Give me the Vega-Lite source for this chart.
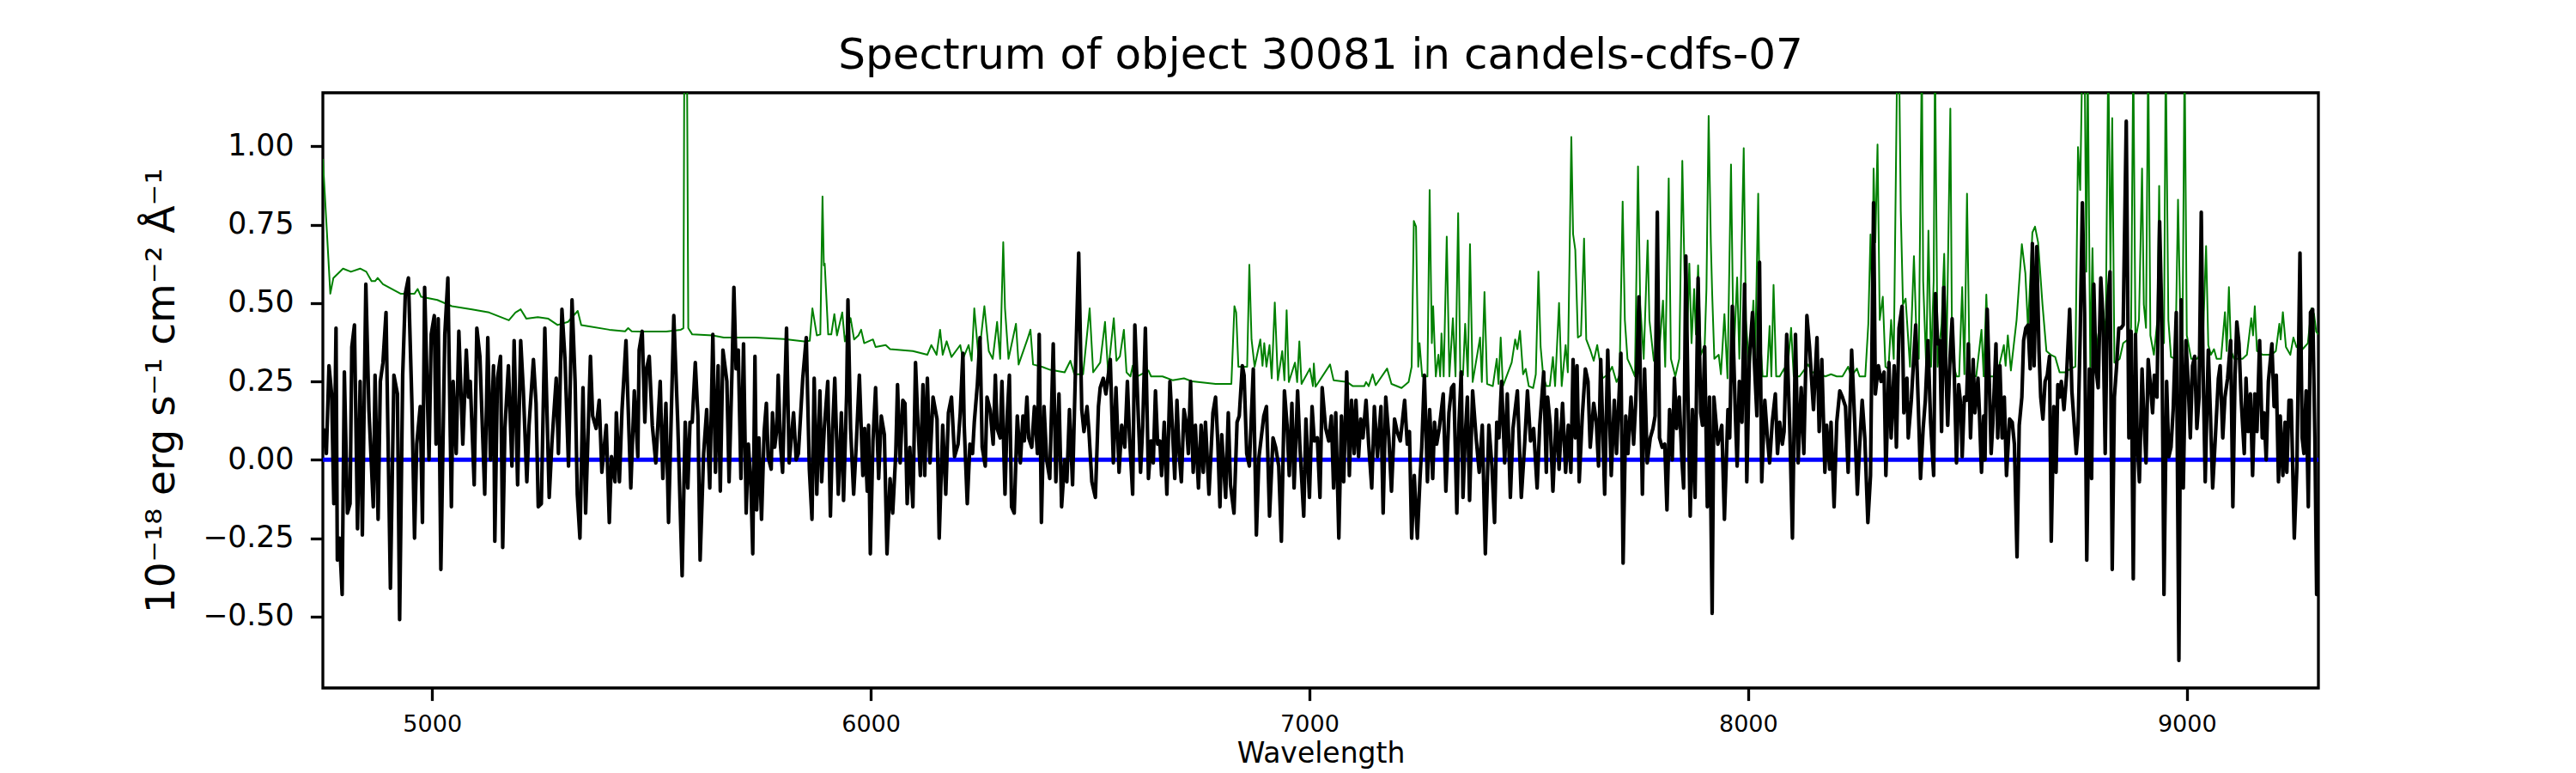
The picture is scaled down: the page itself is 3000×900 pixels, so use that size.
{
"$schema": "https://vega.github.io/schema/vega-lite/v6.json",
"width": 2324, "height": 693,
"autosize": {"type": "none"},
"padding": {"left": 376, "top": 108, "right": 300, "bottom": 99},
"background": "white",
"config": {"font": "DejaVu Sans", "view": {"stroke": "black", "strokeWidth": 3.3}},
"title": {"text": "Spectrum of object 30081 in candels-cdfs-07", "fontSize": 50, "fontWeight": "normal", "font": "DejaVu Sans", "color": "black", "anchor": "middle", "frame": "group", "baseline": "alphabetic", "offset": 25, "dy": 47},
"datasets": {
"flux": [
{"w":4752,"f":0.10},{"w":4759,"f":0.02},{"w":4765,"f":0.30},{"w":4771,"f":0.21},{"w":4776,"f":-0.14},{"w":4781,"f":0.42},{"w":4784,"f":-0.32},{"w":4789,"f":-0.25},{"w":4795,"f":-0.43},{"w":4800,"f":0.28},{"w":4807,"f":-0.17},{"w":4813,"f":-0.14},{"w":4817,"f":0.36},{"w":4823,"f":0.43},{"w":4830,"f":-0.22},{"w":4836,"f":0.25},{"w":4841,"f":-0.24},{"w":4849,"f":0.56},{"w":4856,"f":0.16},{"w":4866,"f":-0.15},{"w":4870,"f":0.27},{"w":4877,"f":-0.19},{"w":4882,"f":0.25},{"w":4888,"f":0.31},{"w":4895,"f":0.47},{"w":4905,"f":-0.41},{"w":4913,"f":0.27},{"w":4921,"f":0.21},{"w":4926,"f":-0.51},{"w":4933,"f":0.27},{"w":4939,"f":0.53},{"w":4946,"f":0.58},{"w":4954,"f":0.18},{"w":4960,"f":-0.25},{"w":4965,"f":0.05},{"w":4973,"f":0.17},{"w":4978,"f":-0.20},{"w":4983,"f":0.55},{"w":4993,"f":0},{"w":4998,"f":0.40},{"w":5005,"f":0.46},{"w":5009,"f":0.05},{"w":5014,"f":0.45},{"w":5020,"f":-0.35},{"w":5029,"f":0.40},{"w":5036,"f":0.58},{"w":5044,"f":-0.15},{"w":5048,"f":0.25},{"w":5055,"f":0.02},{"w":5061,"f":0.41},{"w":5070,"f":0.05},{"w":5078,"f":0.35},{"w":5083,"f":0.20},{"w":5087,"f":0.25},{"w":5096,"f":-0.08},{"w":5102,"f":0.42},{"w":5109,"f":0.33},{"w":5120,"f":-0.11},{"w":5127,"f":0.39},{"w":5133,"f":0},{"w":5140,"f":0.30},{"w":5143,"f":-0.26},{"w":5149,"f":0.26},{"w":5156,"f":0.33},{"w":5161,"f":-0.28},{"w":5166,"f":0.10},{"w":5174,"f":0.30},{"w":5182,"f":-0.02},{"w":5187,"f":0.38},{"w":5195,"f":-0.08},{"w":5202,"f":0.38},{"w":5208,"f":0.22},{"w":5216,"f":-0.07},{"w":5221,"f":0.11},{"w":5231,"f":0.32},{"w":5237,"f":0.18},{"w":5242,"f":-0.15},{"w":5249,"f":-0.14},{"w":5257,"f":0.42},{"w":5267,"f":-0.12},{"w":5273,"f":0.05},{"w":5283,"f":0.26},{"w":5288,"f":0.02},{"w":5296,"f":0.48},{"w":5303,"f":0.32},{"w":5311,"f":-0.02},{"w":5319,"f":0.51},{"w":5326,"f":0.25},{"w":5331,"f":-0.11},{"w":5337,"f":-0.25},{"w":5344,"f":0.23},{"w":5350,"f":-0.17},{"w":5361,"f":0.33},{"w":5366,"f":0.14},{"w":5374,"f":0.10},{"w":5381,"f":0.19},{"w":5387,"f":-0.04},{"w":5397,"f":0.11},{"w":5404,"f":-0.20},{"w":5409,"f":0.01},{"w":5417,"f":-0.07},{"w":5420,"f":0.15},{"w":5427,"f":-0.07},{"w":5433,"f":0.16},{"w":5442,"f":0.38},{"w":5453,"f":-0.09},{"w":5461,"f":0.22},{"w":5469,"f":0.01},{"w":5472,"f":0.35},{"w":5479,"f":0.41},{"w":5485,"f":0.12},{"w":5489,"f":0.29},{"w":5495,"f":0.33},{"w":5502,"f":0.11},{"w":5510,"f":-0.01},{"w":5520,"f":0.25},{"w":5526,"f":-0.06},{"w":5533,"f":0.18},{"w":5539,"f":-0.20},{"w":5551,"f":0.46},{"w":5560,"f":0.12},{"w":5570,"f":-0.37},{"w":5577,"f":0.12},{"w":5583,"f":-0.09},{"w":5588,"f":0.12},{"w":5593,"f":0.12},{"w":5600,"f":0.31},{"w":5606,"f":0.14},{"w":5611,"f":-0.32},{"w":5619,"f":0.02},{"w":5626,"f":0.16},{"w":5633,"f":-0.09},{"w":5640,"f":0.40},{"w":5646,"f":-0.04},{"w":5652,"f":0.30},{"w":5657,"f":-0.10},{"w":5663,"f":0.35},
{"w":5672,"f":0.25},{"w":5677,"f":-0.07},{"w":5684,"f":0.30},{"w":5688,"f":0.55},{"w":5693,"f":0.29},{"w":5698,"f":0.35},{"w":5704,"f":-0.06},{"w":5710,"f":0.37},{"w":5716,"f":-0.17},{"w":5721,"f":0.05},{"w":5727,"f":-0.09},{"w":5731,"f":-0.30},{"w":5736,"f":0.33},{"w":5740,"f":-0.16},{"w":5745,"f":0.07},{"w":5751,"f":-0.19},{"w":5757,"f":0.09},{"w":5762,"f":0.18},{"w":5766,"f":0.01},{"w":5773,"f":-0.03},{"w":5776,"f":0.15},{"w":5781,"f":0.04},{"w":5786,"f":0.10},{"w":5789,"f":0.27},{"w":5794,"f":0.05},{"w":5799,"f":-0.04},{"w":5808,"f":0.42},{"w":5814,"f":-0.01},{"w":5819,"f":0.07},{"w":5824,"f":0.15},{"w":5830,"f":0},{"w":5835,"f":0.02},{"w":5840,"f":0.14},{"w":5845,"f":0.26},{"w":5853,"f":0.39},{"w":5860,"f":-0.03},{"w":5866,"f":-0.19},{"w":5871,"f":0.26},{"w":5877,"f":-0.11},{"w":5884,"f":0.22},{"w":5888,"f":-0.07},{"w":5894,"f":0.10},{"w":5902,"f":0.25},{"w":5908,"f":-0.18},{"w":5913,"f":0.10},{"w":5918,"f":0.26},{"w":5926,"f":-0.11},{"w":5933,"f":0.15},{"w":5938,"f":-0.13},{"w":5945,"f":0.21},{"w":5948,"f":0.51},{"w":5954,"f":0.10},{"w":5961,"f":-0.11},{"w":5967,"f":0.05},{"w":5974,"f":0.27},{"w":5982,"f":-0.05},{"w":5986,"f":0.10},{"w":5992,"f":-0.10},{"w":5995,"f":0.11},{"w":5999,"f":-0.30},{"w":6005,"f":0.06},{"w":6011,"f":0.23},{"w":6018,"f":-0.06},{"w":6024,"f":0.14},{"w":6031,"f":0.08},{"w":6037,"f":-0.30},{"w":6044,"f":-0.06},{"w":6050,"f":-0.17},{"w":6057,"f":0.02},{"w":6061,"f":0.24},{"w":6067,"f":-0.01},{"w":6073,"f":0.19},{"w":6078,"f":0.18},{"w":6083,"f":-0.14},{"w":6089,"f":0.04},{"w":6096,"f":-0.15},{"w":6102,"f":0.31},{"w":6108,"f":0.10},{"w":6113,"f":-0.05},{"w":6119,"f":0.24},{"w":6123,"f":-0.05},{"w":6129,"f":0.26},{"w":6135,"f":-0.01},{"w":6142,"f":0.20},{"w":6151,"f":0.13},{"w":6156,"f":-0.25},{"w":6164,"f":0.11},{"w":6171,"f":-0.11},{"w":6177,"f":0.15},{"w":6184,"f":0.20},{"w":6191,"f":0.01},{"w":6199,"f":0.05},{"w":6204,"f":0.15},{"w":6210,"f":0.34},{"w":6213,"f":0.11},{"w":6220,"f":-0.14},{"w":6226,"f":0.05},{"w":6232,"f":0.02},{"w":6236,"f":0.12},{"w":6243,"f":0.24},{"w":6249,"f":0.39},{"w":6254,"f":0.04},{"w":6261,"f":-0.02},{"w":6265,"f":0.20},{"w":6272,"f":0.16},{"w":6279,"f":0.05},{"w":6284,"f":0.27},{"w":6288,"f":0.10},{"w":6295,"f":0.07},{"w":6299,"f":0.25},{"w":6306,"f":-0.11},{"w":6311,"f":0.14},{"w":6316,"f":0.27},{"w":6321,"f":-0.15},{"w":6327,"f":-0.17},{"w":6334,"f":0.14},{"w":6341,"f":-0.01},{"w":6347,"f":0.14},{"w":6350,"f":0.06},{"w":6356,"f":0.20},{"w":6360,"f":0.07},{"w":6367,"f":0.04},{"w":6373,"f":0.17},{"w":6380,"f":0.02},{"w":6384,"f":0.40},{"w":6389,"f":-0.20},{"w":6395,"f":0.17},{"w":6401,"f":0},{"w":6408,"f":-0.06},{"w":6416,"f":0.37},{"w":6422,"f":-0.07},{"w":6429,"f":0.21},{"w":6435,"f":-0.15},{"w":6442,"f":0},{"w":6447,"f":-0.07},{"w":6453,"f":0.16},{"w":6460,"f":-0.08},{"w":6466,"f":0.25},{"w":6474,"f":0.66},{"w":6481,"f":0.16},{"w":6486,"f":0.09},{"w":6493,"f":0.17},{"w":6497,"f":0.10},{"w":6504,"f":-0.07},{"w":6512,"f":-0.12},{"w":6519,"f":0.17},{"w":6523,"f":0.23},{"w":6530,"f":0.26},{"w":6536,"f":0.21},{"w":6546,"f":0.32},{"w":6553,"f":-0.01},{"w":6559,"f":0.23},{"w":6566,"f":-0.04},{"w":6572,"f":0.11},{"w":6579,"f":0.04},{"w":6585,"f":0.25},
{"w":6590,"f":0.07},{"w":6597,"f":-0.11},{"w":6602,"f":0.43},{"w":6609,"f":0.17},{"w":6615,"f":-0.04},{"w":6620,"f":0.11},{"w":6626,"f":0.42},{"w":6633,"f":-0.06},{"w":6639,"f":0.06},{"w":6644,"f":-0.01},{"w":6649,"f":0.22},{"w":6654,"f":0.05},{"w":6659,"f":0.06},{"w":6663,"f":-0.05},{"w":6669,"f":0.12},{"w":6675,"f":-0.11},{"w":6682,"f":0.25},{"w":6687,"f":0.12},{"w":6693,"f":-0.06},{"w":6698,"f":0.19},{"w":6703,"f":0.02},{"w":6708,"f":-0.07},{"w":6714,"f":0.16},{"w":6719,"f":0.12},{"w":6724,"f":0.02},{"w":6729,"f":0.25},{"w":6735,"f":-0.04},{"w":6740,"f":0.11},{"w":6747,"f":-0.09},{"w":6753,"f":0.11},{"w":6758,"f":-0.04},{"w":6763,"f":0.12},{"w":6771,"f":-0.11},{"w":6780,"f":0.15},{"w":6786,"f":0.20},{"w":6791,"f":0.06},{"w":6796,"f":-0.15},{"w":6800,"f":0.08},{"w":6809,"f":-0.12},{"w":6815,"f":0.15},{"w":6820,"f":-0.08},{"w":6828,"f":-0.17},{"w":6835,"f":0.12},{"w":6840,"f":0.14},{"w":6847,"f":0.30},{"w":6851,"f":0.27},{"w":6857,"f":0.02},{"w":6863,"f":-0.02},{"w":6872,"f":0.29},{"w":6879,"f":-0.24},{"w":6885,"f":0.01},{"w":6896,"f":0.14},{"w":6902,"f":0.17},{"w":6909,"f":-0.18},{"w":6917,"f":0.07},{"w":6923,"f":0.04},{"w":6930,"f":-0.02},{"w":6936,"f":-0.26},{"w":6943,"f":0.22},{"w":6949,"f":0.11},{"w":6954,"f":-0.05},{"w":6960,"f":0.18},{"w":6965,"f":-0.09},{"w":6973,"f":0.22},{"w":6978,"f":0.05},{"w":6987,"f":-0.18},{"w":6992,"f":0.13},{"w":7000,"f":-0.12},{"w":7006,"f":0.17},{"w":7011,"f":0.06},{"w":7018,"f":0.07},{"w":7024,"f":-0.12},{"w":7029,"f":0.23},{"w":7037,"f":0.10},{"w":7044,"f":0.06},{"w":7050,"f":0.14},{"w":7055,"f":-0.09},{"w":7060,"f":0.15},{"w":7067,"f":-0.25},{"w":7073,"f":0.14},{"w":7078,"f":-0.07},{"w":7085,"f":0.28},{"w":7091,"f":-0.05},{"w":7096,"f":0.19},{"w":7102,"f":0.02},{"w":7106,"f":0.19},{"w":7112,"f":0.01},{"w":7117,"f":0.13},{"w":7122,"f":0.07},{"w":7129,"f":0.19},{"w":7135,"f":0.05},{"w":7142,"f":-0.09},{"w":7148,"f":0.17},{"w":7155,"f":0.01},{"w":7163,"f":0.17},{"w":7168,"f":-0.17},{"w":7174,"f":0.20},{"w":7181,"f":0.07},{"w":7187,"f":-0.10},{"w":7194,"f":0.13},{"w":7200,"f":0.09},{"w":7207,"f":0.06},{"w":7217,"f":0.19},{"w":7223,"f":0.05},{"w":7228,"f":0.09},{"w":7233,"f":-0.25},{"w":7239,"f":-0.05},{"w":7246,"f":-0.25},{"w":7252,"f":-0.06},{"w":7256,"f":0.04},{"w":7262,"f":0.27},{"w":7269,"f":-0.07},{"w":7274,"f":0.16},{"w":7281,"f":-0.06},{"w":7285,"f":0.12},{"w":7290,"f":0.05},{"w":7296,"f":0.10},{"w":7305,"f":0.21},{"w":7311,"f":-0.10},{"w":7318,"f":0.15},{"w":7324,"f":0.23},{"w":7329,"f":0.24},{"w":7336,"f":-0.17},{"w":7341,"f":0.12},{"w":7346,"f":0.28},{"w":7350,"f":-0.12},{"w":7355,"f":0.07},{"w":7360,"f":0.20},{"w":7365,"f":-0.13},{"w":7372,"f":0.22},{"w":7380,"f":0.07},{"w":7387,"f":-0.04},{"w":7394,"f":0.11},{"w":7401,"f":-0.30},{"w":7409,"f":0.11},{"w":7416,"f":-0.02},{"w":7422,"f":-0.20},{"w":7427,"f":0.12},{"w":7432,"f":0.07},{"w":7438,"f":0.25},{"w":7445,"f":-0.01},{"w":7451,"f":0.21},{"w":7458,"f":-0.12},{"w":7464,"f":0.10},{"w":7474,"f":0.22},{"w":7483,"f":-0.12},{"w":7491,"f":0.06},{"w":7497,"f":0.22},{"w":7504,"f":0.06},
{"w":7511,"f":0.10},{"w":7519,"f":-0.09},{"w":7525,"f":0.11},{"w":7534,"f":0.28},{"w":7540,"f":-0.04},{"w":7543,"f":0.20},{"w":7549,"f":0.11},{"w":7555,"f":-0.10},{"w":7563,"f":0.16},{"w":7569,"f":-0.03},{"w":7577,"f":0.18},{"w":7584,"f":-0.04},{"w":7590,"f":0.11},{"w":7596,"f":-0.04},{"w":7601,"f":0.32},{"w":7606,"f":0.07},{"w":7610,"f":0.30},{"w":7615,"f":-0.07},{"w":7622,"f":0.14},{"w":7629,"f":0.29},{"w":7635,"f":0.25},{"w":7640,"f":0.04},{"w":7648,"f":0.18},{"w":7654,"f":0.12},{"w":7659,"f":-0.02},{"w":7664,"f":0.32},{"w":7673,"f":-0.11},{"w":7680,"f":0.35},{"w":7688,"f":-0.05},{"w":7695,"f":0.19},{"w":7700,"f":0.02},{"w":7710,"f":0.34},{"w":7715,"f":-0.33},{"w":7721,"f":0.14},{"w":7726,"f":0.02},{"w":7733,"f":0.20},{"w":7739,"f":0.05},{"w":7744,"f":0.19},{"w":7751,"f":0.52},{"w":7759,"f":-0.11},{"w":7764,"f":0.29},{"w":7770,"f":-0.01},{"w":7777,"f":0.07},{"w":7783,"f":0.10},{"w":7788,"f":0.14},{"w":7793,"f":0.79},{"w":7798,"f":0.07},{"w":7804,"f":0.04},{"w":7810,"f":0.05},{"w":7815,"f":-0.16},{"w":7821,"f":0.16},{"w":7827,"f":0},{"w":7832,"f":0.26},{"w":7837,"f":0.10},{"w":7843,"f":0.20},{"w":7849,"f":0},{"w":7853,"f":-0.09},{"w":7858,"f":0.65},{"w":7863,"f":0.20},{"w":7868,"f":-0.18},{"w":7873,"f":0.16},{"w":7879,"f":-0.12},{"w":7886,"f":0.58},{"w":7892,"f":0.15},{"w":7896,"f":0.11},{"w":7901,"f":0.36},{"w":7907,"f":-0.15},{"w":7912,"f":0.20},{"w":7918,"f":-0.49},{"w":7922,"f":0.20},{"w":7931,"f":0.05},{"w":7940,"f":0.11},{"w":7946,"f":-0.19},{"w":7954,"f":0.16},{"w":7958,"f":0.07},{"w":7964,"f":0.49},{"w":7971,"f":0.14},{"w":7975,"f":-0.02},{"w":7980,"f":0.25},{"w":7986,"f":0.12},{"w":7992,"f":0.56},{"w":7997,"f":-0.07},{"w":8003,"f":0.33},{"w":8010,"f":0.47},{"w":8014,"f":0.32},{"w":8020,"f":0.14},{"w":8026,"f":0.63},{"w":8031,"f":-0.07},{"w":8038,"f":0.19},{"w":8044,"f":0.07},{"w":8049,"f":-0.01},{"w":8055,"f":0.12},{"w":8062,"f":0.21},{"w":8067,"f":0.02},{"w":8072,"f":0.12},{"w":8078,"f":0.05},{"w":8082,"f":0.09},{"w":8088,"f":0.40},{"w":8095,"f":0.10},{"w":8101,"f":-0.25},{"w":8108,"f":0.40},{"w":8114,"f":-0.01},{"w":8121,"f":0.23},{"w":8127,"f":0.02},{"w":8134,"f":0.46},{"w":8140,"f":0.36},{"w":8149,"f":0.16},{"w":8157,"f":0.39},{"w":8162,"f":0.09},{"w":8168,"f":0.32},{"w":8175,"f":-0.04},{"w":8179,"f":0.11},{"w":8186,"f":-0.03},{"w":8189,"f":0.12},{"w":8196,"f":-0.15},{"w":8202,"f":0.12},{"w":8209,"f":0.22},{"w":8215,"f":0.20},{"w":8222,"f":0.17},{"w":8228,"f":-0.04},{"w":8236,"f":0.35},{"w":8243,"f":0.12},{"w":8249,"f":-0.11},{"w":8254,"f":0.04},{"w":8260,"f":0.19},{"w":8266,"f":0.07},{"w":8273,"f":-0.20},{"w":8279,"f":-0.05},{"w":8286,"f":0.82},{"w":8290,"f":0.21},{"w":8297,"f":0.30},{"w":8303,"f":0.25},{"w":8310,"f":0.28},{"w":8314,"f":-0.05},{"w":8321,"f":0.31},{"w":8326,"f":0.07},{"w":8333,"f":0.30},{"w":8338,"f":0.04},{"w":8344,"f":0.42},{"w":8351,"f":0.49},{"w":8355,"f":0.15},{"w":8362,"f":0.26},{"w":8365,"f":0.07},{"w":8372,"f":0.19},{"w":8382,"f":0.43},{"w":8388,"f":0.17},{"w":8393,"f":-0.06},{"w":8399,"f":0.10},{"w":8404,"f":0.19},{"w":8410,"f":0.38},{"w":8416,"f":0.12},{"w":8423,"f":-0.05},{"w":8427,"f":0.53},
{"w":8432,"f":0.37},{"w":8437,"f":0.38},{"w":8441,"f":0.09},{"w":8446,"f":0.55},{"w":8450,"f":0.32},{"w":8455,"f":0.11},{"w":8460,"f":0.32},{"w":8465,"f":0.45},{"w":8470,"f":0.27},{"w":8475,"f":-0.01},{"w":8480,"f":0.24},{"w":8485,"f":0.17},{"w":8488,"f":0.01},{"w":8493,"f":0.20},{"w":8498,"f":0.19},{"w":8502,"f":0.37},{"w":8507,"f":0.07},{"w":8513,"f":0.32},{"w":8517,"f":0.15},{"w":8524,"f":0.26},{"w":8527,"f":0.16},{"w":8532,"f":-0.04},{"w":8537,"f":0.14},{"w":8540,"f":0},{"w":8545,"f":0.48},{"w":8550,"f":0.24},{"w":8554,"f":0.02},{"w":8558,"f":0.12},{"w":8565,"f":0.37},{"w":8569,"f":0.07},{"w":8574,"f":0.30},{"w":8579,"f":0.07},{"w":8584,"f":0.20},{"w":8589,"f":-0.05},{"w":8596,"f":0.13},{"w":8602,"f":0.12},{"w":8607,"f":0.05},{"w":8613,"f":-0.31},{"w":8618,"f":0.11},{"w":8624,"f":0.20},{"w":8628,"f":0.38},{"w":8633,"f":0.42},{"w":8638,"f":0.43},{"w":8643,"f":0.29},{"w":8648,"f":0.69},{"w":8652,"f":0.30},{"w":8658,"f":0.68},{"w":8663,"f":0.35},{"w":8667,"f":0.20},{"w":8672,"f":0.13},{"w":8677,"f":0.25},{"w":8682,"f":0.27},{"w":8687,"f":0.33},{"w":8691,"f":-0.26},{"w":8697,"f":0.17},{"w":8702,"f":-0.04},{"w":8706,"f":0.24},{"w":8710,"f":0.20},{"w":8714,"f":0.25},{"w":8720,"f":0.16},{"w":8726,"f":0.27},{"w":8733,"f":0.48},{"w":8738,"f":0.22},{"w":8742,"f":0.14},{"w":8748,"f":0.02},{"w":8752,"f":0.09},{"w":8757,"f":0.40},{"w":8762,"f":0.82},{"w":8767,"f":0.47},{"w":8772,"f":-0.32},{"w":8778,"f":0.29},{"w":8783,"f":-0.06},{"w":8788,"f":0.56},{"w":8793,"f":0.29},{"w":8798,"f":0.23},{"w":8804,"f":0.58},{"w":8809,"f":0.45},{"w":8814,"f":0.02},{"w":8819,"f":0.49},{"w":8825,"f":0.60},{"w":8830,"f":-0.35},{"w":8835,"f":0.20},{"w":8840,"f":0.30},{"w":8845,"f":0.42},{"w":8850,"f":0.42},{"w":8855,"f":0.43},{"w":8862,"f":1.08},{"w":8868,"f":0.07},{"w":8873,"f":0.41},{"w":8878,"f":-0.38},{"w":8883,"f":0.40},{"w":8887,"f":0.06},{"w":8892,"f":-0.07},{"w":8898,"f":0.29},{"w":8902,"f":0.14},{"w":8907,"f":-0.01},{"w":8912,"f":0.32},{"w":8917,"f":0.24},{"w":8922,"f":0.15},{"w":8926,"f":0.27},{"w":8932,"f":0.20},{"w":8938,"f":0.76},{"w":8943,"f":0.45},{"w":8948,"f":-0.43},{"w":8954,"f":0.25},{"w":8959,"f":0.01},{"w":8964,"f":0.04},{"w":8969,"f":0.16},{"w":8976,"f":0.47},{"w":8982,"f":-0.64},{"w":8987,"f":0.51},{"w":8992,"f":-0.09},{"w":8998,"f":0.38},{"w":9003,"f":0.25},{"w":9008,"f":0.07},{"w":9013,"f":0.30},{"w":9018,"f":0.33},{"w":9023,"f":0.10},{"w":9028,"f":0.20},{"w":9033,"f":0.79},{"w":9037,"f":0.30},{"w":9042,"f":-0.07},{"w":9049,"f":0.35},{"w":9054,"f":0.14},{"w":9059,"f":-0.09},{"w":9065,"f":0.07},{"w":9072,"f":0.26},{"w":9076,"f":0.30},{"w":9082,"f":0.07},{"w":9087,"f":0.20},{"w":9093,"f":0.26},{"w":9100,"f":0.38},{"w":9105,"f":-0.15},{"w":9110,"f":0.27},{"w":9114,"f":0.44},{"w":9119,"f":0.37},{"w":9124,"f":0.19},{"w":9131,"f":0.02},{"w":9135,"f":0.26},{"w":9140,"f":0.09},{"w":9145,"f":0.21},{"w":9150,"f":-0.05},{"w":9155,"f":0.21},{"w":9160,"f":0.09},{"w":9166,"f":0.38},{"w":9172,"f":0.07},{"w":9176,"f":0.15},{"w":9181,"f":0},{"w":9186,"f":0.25},{"w":9194,"f":0.37},{"w":9199,"f":0.17},{"w":9204,"f":0.27},{"w":9209,"f":-0.07},{"w":9213,"f":0.14},{"w":9219,"f":-0.05},{"w":9224,"f":0.12},{"w":9228,"f":-0.04},{"w":9233,"f":0.19},{"w":9238,"f":0.19},{"w":9245,"f":-0.25},{"w":9251,"f":-0.02},{"w":9258,"f":0.66},{"w":9263,"f":0.07},{"w":9267,"f":0.02},{"w":9272,"f":0.22},{"w":9277,"f":-0.15},{"w":9282,"f":0.47},{"w":9287,"f":0.48},{"w":9292,"f":0.07},{"w":9296,"f":-0.43},{"w":9300,"f":-0.43}
],
"err": [
{"w":4751,"f":0.96},{"w":4768,"f":0.53},{"w":4775,"f":0.58},{"w":4797,"f":0.61},{"w":4815,"f":0.60},{"w":4836,"f":0.61},{"w":4850,"f":0.60},{"w":4862,"f":0.57},{"w":4870,"f":0.57},{"w":4876,"f":0.58},{"w":4888,"f":0.56},{"w":4928,"f":0.53},{"w":4960,"f":0.53},{"w":4967,"f":0.545},{"w":4975,"f":0.52},{"w":5012,"f":0.51},{"w":5045,"f":0.49},{"w":5091,"f":0.48},{"w":5130,"f":0.47},{"w":5175,"f":0.445},{"w":5190,"f":0.47},{"w":5202,"f":0.48},{"w":5215,"f":0.45},{"w":5241,"f":0.455},{"w":5265,"f":0.45},{"w":5286,"f":0.43},{"w":5310,"f":0.44},{"w":5332,"f":0.475},{"w":5340,"f":0.43},{"w":5352,"f":0.427},{"w":5404,"f":0.415},{"w":5440,"f":0.41},{"w":5447,"f":0.42},{"w":5455,"f":0.41},{"w":5469,"f":0.409},{"w":5534,"f":0.409},{"w":5567,"f":0.415},{"w":5573,"f":0.42},{"w":5575,"f":1.3},{"w":5581,"f":1.3},{"w":5584,"f":0.42},{"w":5593,"f":0.40},{"w":5639,"f":0.397},{"w":5665,"f":0.39},
{"w":5737,"f":0.39},{"w":5802,"f":0.385},{"w":5848,"f":0.378},{"w":5861,"f":0.38},{"w":5867,"f":0.483},{"w":5877,"f":0.397},{"w":5885,"f":0.40},{"w":5890,"f":0.84},{"w":5893,"f":0.62},{"w":5895,"f":0.626},{"w":5903,"f":0.40},{"w":5910,"f":0.40},{"w":5917,"f":0.465},{"w":5923,"f":0.397},{"w":5935,"f":0.47},{"w":5941,"f":0.378},{"w":5954,"f":0.452},{"w":5962,"f":0.384},{"w":5972,"f":0.397},{"w":5978,"f":0.415},{"w":5985,"f":0.372},{"w":6005,"f":0.384},{"w":6011,"f":0.36},{"w":6034,"f":0.366},{"w":6044,"f":0.353},{"w":6096,"f":0.347},{"w":6129,"f":0.335},{"w":6138,"f":0.366},{"w":6150,"f":0.335},{"w":6158,"f":0.415},{"w":6164,"f":0.335},{"w":6173,"f":0.378},{"w":6184,"f":0.328},{"w":6204,"f":0.366},{"w":6210,"f":0.322},{"w":6223,"f":0.366},{"w":6230,"f":0.316},{"w":6236,"f":0.483},{"w":6246,"f":0.322},{"w":6259,"f":0.49},{"w":6269,"f":0.347},{"w":6278,"f":0.322},{"w":6288,"f":0.44},{"w":6295,"f":0.322},{"w":6302,"f":0.694},{"w":6306,"f":0.483},{"w":6314,"f":0.322},{"w":6331,"f":0.434},{"w":6337,"f":0.304},{"w":6357,"f":0.384},{"w":6364,"f":0.415},{"w":6370,"f":0.304},{"w":6390,"f":0.297},{"w":6409,"f":0.287},{"w":6442,"f":0.279},{"w":6455,"f":0.316},{"w":6464,"f":0.273},{"w":6484,"f":0.273},{"w":6499,"f":0.483},{"w":6507,"f":0.279},{"w":6523,"f":0.31},{"w":6534,"f":0.44},{"w":6541,"f":0.279},{"w":6554,"f":0.452},{"w":6560,"f":0.316},{"w":6568,"f":0.33},{"w":6577,"f":0.415},{"w":6583,"f":0.279},{"w":6592,"f":0.266},
{"w":6597,"f":0.30},{"w":6600,"f":0.26},{"w":6633,"f":0.285},{"w":6639,"f":0.266},{"w":6665,"f":0.266},{"w":6688,"f":0.254},{"w":6714,"f":0.26},{"w":6733,"f":0.25},{"w":6786,"f":0.242},{"w":6822,"f":0.242},{"w":6829,"f":0.49},{"w":6833,"f":0.47},{"w":6838,"f":0.297},{"w":6858,"f":0.297},{"w":6863,"f":0.622},{"w":6868,"f":0.384},{"w":6875,"f":0.297},{"w":6888,"f":0.384},{"w":6893,"f":0.30},{"w":6897,"f":0.372},{"w":6902,"f":0.297},{"w":6909,"f":0.366},{"w":6914,"f":0.26},{"w":6921,"f":0.502},{"w":6928,"f":0.254},{"w":6938,"f":0.347},{"w":6943,"f":0.254},{"w":6948,"f":0.477},{"w":6953,"f":0.248},{"w":6967,"f":0.31},{"w":6972,"f":0.248},{"w":6977,"f":0.378},{"w":6982,"f":0.242},{"w":7001,"f":0.291},{"w":7008,"f":0.235},{"w":7010,"f":0.307},{"w":7014,"f":0.233},{"w":7047,"f":0.304},{"w":7055,"f":0.254},{"w":7086,"f":0.248},{"w":7099,"f":0.235},{"w":7125,"f":0.235},{"w":7129,"f":0.248},{"w":7135,"f":0.235},{"w":7144,"f":0.273},{"w":7151,"f":0.238},{"w":7177,"f":0.291},{"w":7187,"f":0.242},{"w":7210,"f":0.229},{"w":7226,"f":0.248},{"w":7233,"f":0.297},{"w":7238,"f":0.762},{"w":7243,"f":0.744},{"w":7248,"f":0.297},{"w":7251,"f":0.372},{"w":7257,"f":0.266},{"w":7269,"f":0.266},{"w":7274,"f":0.861},{"w":7279,"f":0.372},{"w":7282,"f":0.49},{"w":7288,"f":0.266},{"w":7294,"f":0.335},{"w":7298,"f":0.266},{"w":7301,"f":0.403},{"w":7306,"f":0.266},{"w":7313,"f":0.712},{"w":7319,"f":0.266},{"w":7327,"f":0.452},{"w":7333,"f":0.266},{"w":7339,"f":0.787},{"w":7344,"f":0.266},{"w":7350,"f":0.27},{"w":7355,"f":0.434},{"w":7361,"f":0.266},{"w":7366,"f":0.688},{"w":7372,"f":0.248},{"w":7389,"f":0.39},{"w":7393,"f":0.248},{"w":7399,"f":0.535},{"w":7405,"f":0.242},{"w":7418,"f":0.235},{"w":7427,"f":0.322},{"w":7431,"f":0.242},{"w":7436,"f":0.39},{"w":7441,"f":0.235},{"w":7461,"f":0.31},{"w":7469,"f":0.384},{"w":7474,"f":0.353},{"w":7480,"f":0.411},{"w":7487,"f":0.273},{"w":7493,"f":0.29},{"w":7500,"f":0.235},{"w":7510,"f":0.229},
{"w":7516,"f":0.273},{"w":7522,"f":0.60},{"w":7527,"f":0.36},{"w":7533,"f":0.266},{"w":7540,"f":0.235},{"w":7548,"f":0.236},{"w":7555,"f":0.328},{"w":7560,"f":0.235},{"w":7569,"f":0.50},{"w":7575,"f":0.235},{"w":7584,"f":0.366},{"w":7589,"f":0.279},{"w":7597,"f":1.03},{"w":7601,"f":0.72},{"w":7606,"f":0.67},{"w":7612,"f":0.39},{"w":7619,"f":0.397},{"w":7626,"f":0.706},{"w":7631,"f":0.384},{"w":7641,"f":0.347},{"w":7648,"f":0.316},{"w":7656,"f":0.366},{"w":7661,"f":0.322},{"w":7668,"f":0.26},{"w":7681,"f":0.273},{"w":7690,"f":0.297},{"w":7700,"f":0.248},{"w":7707,"f":0.27},{"w":7714,"f":0.824},{"w":7719,"f":0.446},{"w":7725,"f":0.322},{"w":7733,"f":0.297},{"w":7742,"f":0.266},{"w":7749,"f":0.936},{"w":7754,"f":0.496},{"w":7762,"f":0.322},{"w":7771,"f":0.70},{"w":7775,"f":0.446},{"w":7785,"f":0.316},{"w":7795,"f":0.304},{"w":7806,"f":0.508},{"w":7811,"f":0.297},{"w":7819,"f":0.898},{"w":7824,"f":0.322},{"w":7834,"f":0.266},{"w":7843,"f":0.322},{"w":7850,"f":0.954},{"w":7855,"f":0.595},{"w":7860,"f":0.347},{"w":7866,"f":0.626},{"w":7871,"f":0.372},{"w":7877,"f":0.545},{"w":7881,"f":0.40},{"w":7886,"f":0.62},{"w":7892,"f":0.335},{"w":7901,"f":0.366},{"w":7905,"f":0.545},{"w":7910,"f":1.097},{"w":7915,"f":0.694},{"w":7918,"f":0.533},{"w":7923,"f":0.322},{"w":7933,"f":0.335},{"w":7938,"f":0.273},{"w":7946,"f":0.465},{"w":7953,"f":0.26},{"w":7961,"f":0.942},{"w":7967,"f":0.322},{"w":7975,"f":0.582},{"w":7980,"f":0.322},{"w":7990,"f":0.994},{"w":7995,"f":0.446},{"w":8003,"f":0.273},{"w":8012,"f":0.508},{"w":8016,"f":0.322},{"w":8023,"f":0.849},{"w":8027,"f":0.397},{"w":8033,"f":0.266},{"w":8043,"f":0.266},{"w":8049,"f":0.427},{"w":8053,"f":0.266},{"w":8058,"f":0.558},{"w":8064,"f":0.266},{"w":8072,"f":0.266},{"w":8082,"f":0.291},{"w":8088,"f":0.26},{"w":8098,"f":0.421},{"w":8104,"f":0.266},{"w":8117,"f":0.266},{"w":8137,"f":0.304},{"w":8147,"f":0.279},{"w":8163,"f":0.273},{"w":8176,"f":0.266},{"w":8189,"f":0.273},{"w":8202,"f":0.266},{"w":8215,"f":0.266},{"w":8228,"f":0.297},{"w":8235,"f":0.266},{"w":8248,"f":0.291},{"w":8254,"f":0.266},{"w":8267,"f":0.266},{"w":8274,"f":0.434},{"w":8279,"f":0.719},{"w":8283,"f":0.5},{"w":8286,"f":0.929},{"w":8290,"f":0.694},{"w":8295,"f":1.006},{"w":8300,"f":0.446},{"w":8307,"f":0.52},{"w":8313,"f":0.297},{"w":8320,"f":0.29},{"w":8326,"f":0.446},{"w":8332,"f":0.322},{"w":8340,"f":1.3},{"w":8344,"f":1.3},{"w":8348,"f":0.793},{"w":8353,"f":0.496},{"w":8359,"f":0.514},{"w":8369,"f":0.297},{"w":8378,"f":0.65},{"w":8384,"f":0.384},{"w":8389,"f":0.322},{"w":8396,"f":1.3},{"w":8399,"f":0.57},{"w":8406,"f":0.297},{"w":8411,"f":0.731},{"w":8417,"f":0.297},{"w":8423,"f":0.57},{"w":8426,"f":1.3},{"w":8432,"f":0.297},
{"w":8441,"f":0.434},{"w":8447,"f":0.657},{"w":8452,"f":0.297},{"w":8461,"f":1.12},{"w":8465,"f":0.322},{"w":8475,"f":0.266},{"w":8481,"f":0.266},{"w":8488,"f":0.551},{"w":8493,"f":0.273},{"w":8499,"f":0.849},{"w":8505,"f":0.273},{"w":8520,"f":0.266},{"w":8532,"f":0.415},{"w":8537,"f":0.266},{"w":8543,"f":0.527},{"w":8550,"f":0.266},{"w":8560,"f":0.266},{"w":8569,"f":0.279},{"w":8583,"f":0.366},{"w":8587,"f":0.30},{"w":8592,"f":0.397},{"w":8599,"f":0.285},{"w":8612,"f":0.446},{"w":8624,"f":0.688},{"w":8632,"f":0.595},{"w":8638,"f":0.421},{"w":8648,"f":0.725},{"w":8654,"f":0.744},{"w":8661,"f":0.694},{"w":8671,"f":0.496},{"w":8680,"f":0.347},{"w":8690,"f":0.335},{"w":8700,"f":0.328},{"w":8710,"f":0.279},{"w":8723,"f":0.279},{"w":8736,"f":0.291},{"w":8746,"f":0.297},{"w":8752,"f":0.998},{"w":8757,"f":0.861},{"w":8762,"f":1.3},{"w":8767,"f":1.3},{"w":8771,"f":0.6},{"w":8774,"f":1.3},{"w":8780,"f":0.297},{"w":8785,"f":0.675},{"w":8790,"f":0.30},{"w":8798,"f":0.397},{"w":8808,"f":0.496},{"w":8815,"f":0.384},{"w":8821,"f":1.3},{"w":8826,"f":0.607},{"w":8830,"f":1.09},{"w":8835,"f":0.31},{"w":8847,"f":0.322},{"w":8855,"f":0.372},{"w":8866,"f":0.384},{"w":8873,"f":0.421},{"w":8878,"f":1.3},{"w":8883,"f":0.384},{"w":8891,"f":0.446},{"w":8898,"f":0.929},{"w":8902,"f":0.496},{"w":8907,"f":0.421},{"w":8912,"f":1.3},{"w":8917,"f":0.397},{"w":8925,"f":0.335},{"w":8933,"f":0.446},{"w":8937,"f":0.874},{"w":8941,"f":0.446},{"w":8948,"f":0.372},{"w":8952,"f":1.3},{"w":8958,"f":0.446},{"w":8964,"f":0.328},{"w":8974,"f":0.322},{"w":8980,"f":0.83},{"w":8985,"f":0.471},{"w":8990,"f":0.347},{"w":8995,"f":1.3},{"w":9000,"f":0.397},{"w":9010,"f":0.322},{"w":9023,"f":0.322},{"w":9036,"f":0.347},{"w":9044,"f":0.682},{"w":9049,"f":0.366},{"w":9055,"f":0.335},{"w":9062,"f":0.353},{"w":9068,"f":0.322},{"w":9078,"f":0.322},{"w":9087,"f":0.471},{"w":9091,"f":0.347},{"w":9096,"f":0.551},{"w":9101,"f":0.347},{"w":9108,"f":0.322},{"w":9127,"f":0.322},{"w":9137,"f":0.335},{"w":9147,"f":0.452},{"w":9151,"f":0.397},{"w":9155,"f":0.49},{"w":9160,"f":0.347},{"w":9173,"f":0.335},{"w":9193,"f":0.335},{"w":9203,"f":0.347},{"w":9211,"f":0.434},{"w":9214,"f":0.384},{"w":9219,"f":0.471},{"w":9226,"f":0.36},{"w":9236,"f":0.335},{"w":9243,"f":0.39},{"w":9250,"f":0.36},{"w":9264,"f":0.353},{"w":9276,"f":0.372},{"w":9284,"f":0.483},{"w":9290,"f":0.465},{"w":9295,"f":0.409},{"w":9300,"f":0.40}
]
},
"layer": [
{"data": {"name": "err"}, "mark": {"type": "line", "color": "#008000", "strokeWidth": 2, "clip": true, "strokeJoin": "round"},
 "encoding": {
  "x": {"field": "w", "type": "quantitative", "scale": {"domain": [4751, 9300], "nice": false, "zero": false},
   "axis": {"title": "Wavelength", "titleFont": "DejaVu Sans", "titleFontSize": 33, "titleFontWeight": "normal", "titleColor": "black", "titleX": 1162, "titleY": 86, "titleBaseline": "alphabetic", "titleAlign": "center",
    "values": [5000, 6000, 7000, 8000, 9000], "format": "d", "labelFont": "DejaVu Sans", "labelFontSize": 27, "labelColor": "black", "labelPadding": 15, "labelBaseline": "top", "labelFlush": false, "labelOverlap": false,
    "tickSize": 14.6, "tickWidth": 3.3, "tickColor": "black", "domain": false, "grid": false}},
  "y": {"field": "f", "type": "quantitative", "scale": {"domain": [-0.728, 1.171], "nice": false, "zero": false},
   "axis": {"title": "10⁻¹⁸ erg s⁻¹ cm⁻² Å⁻¹", "titleFont": "DejaVu Sans", "titleFontSize": 47, "titleFontWeight": "normal", "titleColor": "black", "titleX": -174, "titleY": 346.5, "titleAngle": 270, "titleBaseline": "alphabetic", "titleAlign": "center",
    "values": [-0.5, -0.25, 0, 0.25, 0.5, 0.75, 1.0], "format": ".2f", "labelFont": "DejaVu Sans", "labelFontSize": 34.7, "labelColor": "black", "labelPadding": 19.4, "labelFlush": false, "labelOverlap": false,
    "tickSize": 14.6, "tickWidth": 3.3, "tickColor": "black", "domain": false, "grid": false}}
 }},
{"data": {"values": [{}]}, "mark": {"type": "rule", "color": "#0000ff", "strokeWidth": 5}, "encoding": {"y": {"datum": 0}}},
{"data": {"name": "flux"}, "mark": {"type": "line", "color": "black", "strokeWidth": 4.2, "clip": true, "strokeJoin": "round"},
 "encoding": {"x": {"field": "w", "type": "quantitative"}, "y": {"field": "f", "type": "quantitative"}}}
]
}
